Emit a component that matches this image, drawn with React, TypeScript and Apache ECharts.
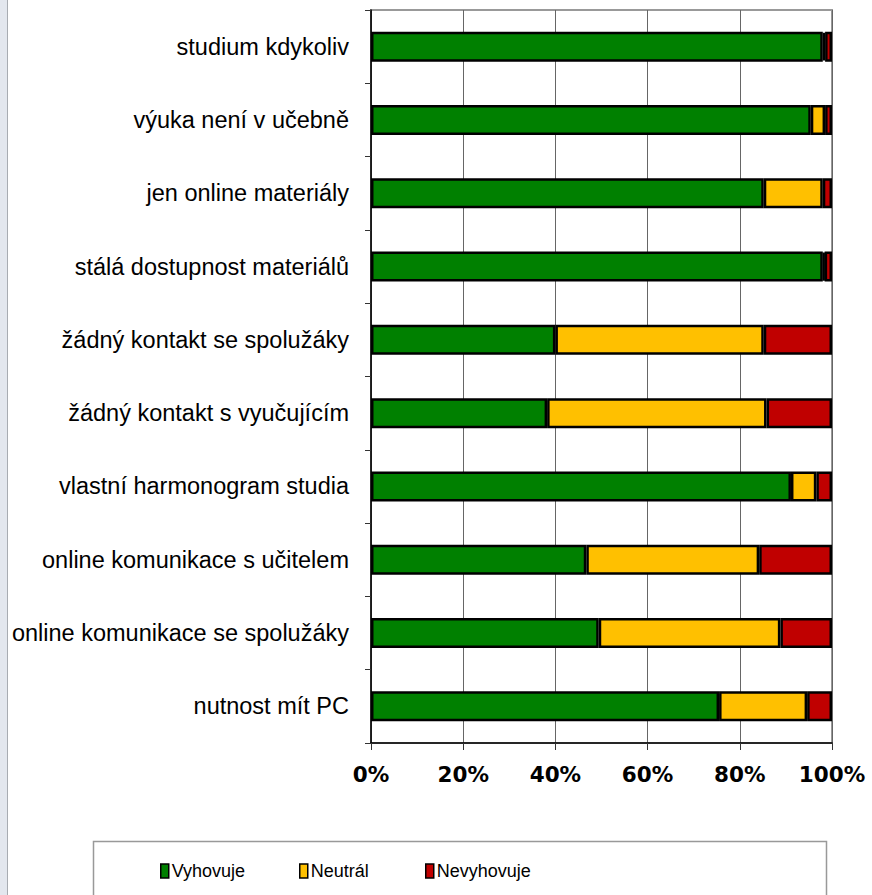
import React, { useEffect, useRef } from "react";
import * as echarts from "echarts";

const categories = [
  "studium kdykoliv",
  "výuka není v učebně",
  "jen online materiály",
  "stálá dostupnost materiálů",
  "žádný kontakt se spolužáky",
  "žádný kontakt s vyučujícím",
  "vlastní harmonogram studia",
  "online komunikace s učitelem",
  "online komunikace se spolužáky",
  "nutnost mít PC",
];
const vyhovuje = [98.0, 95.4, 85.2, 98.0, 40.0, 38.2, 91.1, 46.7, 49.4, 75.5];
const neutral = [0.5, 3.1, 12.8, 0.4, 45.2, 47.6, 5.5, 37.5, 39.4, 19.1];
const nevyhovuje = [1.5, 1.5, 2.0, 1.6, 14.8, 14.2, 3.4, 15.8, 11.2, 5.4];
const seriesNames = ["Vyhovuje", "Neutrál", "Nevyhovuje"];
const colors = ["#008000", "#FFC000", "#C00000"];
const xTicks = [0, 20, 40, 60, 80, 100];

export default function App() {
  const ref = useRef<HTMLDivElement>(null);
  useEffect(() => {
    if (!ref.current) return;
    const chart = echarts.init(ref.current, null, { renderer: "svg" });
    const data = [vyhovuje, neutral, nevyhovuje];
    const labelFont = "'Liberation Sans', Arial, sans-serif";
    chart.setOption({
      animation: false,
      backgroundColor: "#ffffff",
      grid: {
        left: 371,
        right: 40,
        top: 10,
        bottom: 152,
        show: true,
        borderColor: "#999999",
        borderWidth: 2,
        backgroundColor: "#ffffff",
      },
      xAxis: {
        type: "value",
        min: xTicks[0],
        max: xTicks[xTicks.length - 1],
        interval: 20,
        axisLine: { show: true, lineStyle: { color: "#000", width: 1.5 } },
        axisTick: { show: true, length: 7, lineStyle: { color: "#333" } },
        splitLine: { show: true, lineStyle: { color: "#666", width: 1 } },
        axisLabel: {
          formatter: "{value}%",
          fontFamily: "'DejaVu Sans', Verdana, sans-serif",
          fontWeight: "bold",
          fontSize: 21.5,
          color: "#000",
          margin: 20,
        },
      },
      yAxis: {
        type: "category",
        data: categories,
        inverse: true,
        axisLine: { show: true, lineStyle: { color: "#000", width: 1.5 } },
        axisTick: { show: true, length: 6, lineStyle: { color: "#333" } },
        axisLabel: {
          fontFamily: labelFont,
          fontSize: 23.5,
          color: "#000",
          margin: 22,
        },
      },
      legend: seriesNames.map((n, i) => ({
        data: [n],
        left: [155, 294, 420][i],
        top: 857,
        icon: "rect",
        itemWidth: 8,
        itemHeight: 14,
        itemGap: 3,
        itemStyle: { borderColor: "#000", borderWidth: 1.5 },
        textStyle: { fontFamily: labelFont, fontSize: 18, color: "#000", padding: [0, 0, 0, -2] },
      })),
      graphic: [
        { type: "rect", shape: { x: 0, y: 0, width: 7, height: 895 }, style: { fill: "#e3e7ee" } },
        { type: "line", shape: { x1: 7.5, y1: 0, x2: 7.5, y2: 895 }, style: { stroke: "#a8acb2", lineWidth: 1 } },
        {
          type: "rect",
          shape: { x: 93.5, y: 841.5, width: 733, height: 80 },
          style: { fill: "none", stroke: "#999", lineWidth: 1.5 },
        },
      ],
      series: seriesNames.map((n, i) => ({
        name: n,
        type: "bar",
        stack: "total",
        barWidth: 30,
        data: data[i],
        itemStyle: { color: colors[i], borderColor: "#000", borderWidth: 2.5 },
      })),
    });
    return () => chart.dispose();
  }, []);
  return (
    <div
      ref={ref}
      style={{ position: "absolute", left: 0, top: 0, width: 872, height: 895 }}
    />
  );
}
